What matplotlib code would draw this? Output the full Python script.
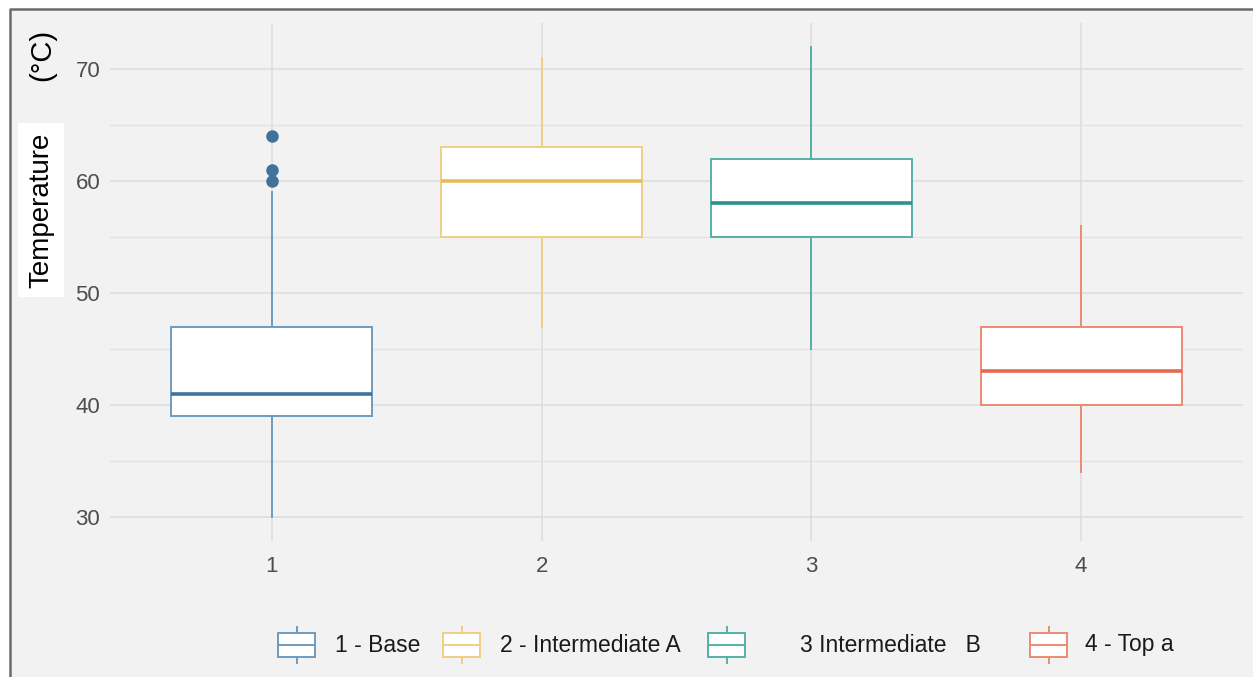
import matplotlib.pyplot as plt
from matplotlib.patches import Rectangle

plt.rcParams['font.family'] = ['Liberation Sans', 'DejaVu Sans']

# box statistics per zone (temperature, °C)
zones = [1, 2, 3, 4]
legend_labels = ['1 - Base', '2 - Intermediate A', '3 Intermediate   B', '4 - Top a']
whisker_low = [30, 47, 45, 34]
q1 = [39, 55, 55, 40]
median = [41, 60, 58, 43]
q3 = [47, 63, 62, 47]
whisker_high = [59, 71, 72, 56]
outliers = [[60, 61, 64], [], [], []]

edge_colors = ['#6f9bbd', '#efcf84', '#55b0a6', '#ec8a73']
median_colors = ['#3f739c', '#e6bc55', '#2a9488', '#e5694c']

W, H = 1253, 677
fig = plt.figure(figsize=(W / 100, H / 100), dpi=100, facecolor='white')
fig.patches.append(Rectangle((10 / W, 0), (W - 10) / W, (H - 9) / H,
                             transform=fig.transFigure, facecolor='#f2f2f2',
                             edgecolor='none', zorder=-10))
# frame on the top and left side only
fig.lines.append(plt.Line2D([10 / W, 10 / W, 1], [0, (H - 9) / H, (H - 9) / H],
                            transform=fig.transFigure, color='#6b6b6b', linewidth=1.8))

ax = fig.add_axes([110 / W, 136.5 / H, 1133 / W, 517.5 / H])
ax.set_facecolor('none')

stats = []
for i in range(len(zones)):
    stats.append(dict(med=median[i], q1=q1[i], q3=q3[i],
                      whislo=whisker_low[i], whishi=whisker_high[i],
                      fliers=outliers[i]))

for i, s in enumerate(stats):
    ax.bxp([s], positions=[zones[i]], widths=0.745, showcaps=False,
           patch_artist=True,
           boxprops=dict(facecolor='white', edgecolor=edge_colors[i], linewidth=1.4),
           whiskerprops=dict(color=edge_colors[i], linewidth=1.4),
           medianprops=dict(color=median_colors[i], linewidth=2.6),
           flierprops=dict(marker='o', markersize=8, markerfacecolor=median_colors[i],
                           markeredgecolor=median_colors[i]))

ax.set_xlim(0.4, 4.6)
ax.set_ylim(27.9, 74.1)
ax.set_xticks(zones)
ax.set_xticklabels([str(z) for z in zones])
ax.set_yticks([30, 40, 50, 60, 70])
ax.set_yticks([35, 45, 55, 65], minor=True)
ax.grid(True, which='major', color='#dcdcdc', linewidth=1.1)
ax.grid(True, which='minor', axis='y', color='#e2e2e2', linewidth=0.9)
ax.set_axisbelow(True)
ax.tick_params(which='both', length=0, labelsize=16, labelcolor='#4d4d4d')
ax.tick_params(axis='y', pad=7)
ax.tick_params(axis='x', pad=11)
for sp in ax.spines.values():
    sp.set_visible(False)

# y axis title
fig.text(41 / W, 1 - 210 / H, 'Temperature', rotation=90, ha='center', va='center',
         fontsize=20, color='black',
         bbox=dict(facecolor='white', edgecolor='none', pad=7))
fig.text(42 / W, 1 - 55 / H, '(°C)', rotation=90, ha='center', va='center',
         fontsize=21, color='black')

# legend along the bottom
leg = fig.add_axes([0, 0, 1, 1], facecolor='none')
leg.set_xlim(0, W)
leg.set_ylim(H, 0)
leg.axis('off')
key_x = [278, 443, 708, 1030]
text_x = [335, 500, 800, 1085]
yc = 645
for i in range(len(zones)):
    x0 = key_x[i]
    leg.add_patch(Rectangle((x0, yc - 12), 37, 24, facecolor='white',
                            edgecolor=edge_colors[i], linewidth=1.4))
    leg.plot([x0, x0 + 37], [yc, yc], color=edge_colors[i], linewidth=1.4)
    leg.plot([x0 + 18.5, x0 + 18.5], [yc - 18, yc - 12], color=edge_colors[i], linewidth=1.4)
    leg.plot([x0 + 18.5, x0 + 18.5], [yc + 12, yc + 18], color=edge_colors[i], linewidth=1.4)
    leg.text(text_x[i], yc, legend_labels[i], ha='left', va='center',
             fontsize=16.5, color='#1a1a1a')

fig.savefig('out.png', dpi=100)
